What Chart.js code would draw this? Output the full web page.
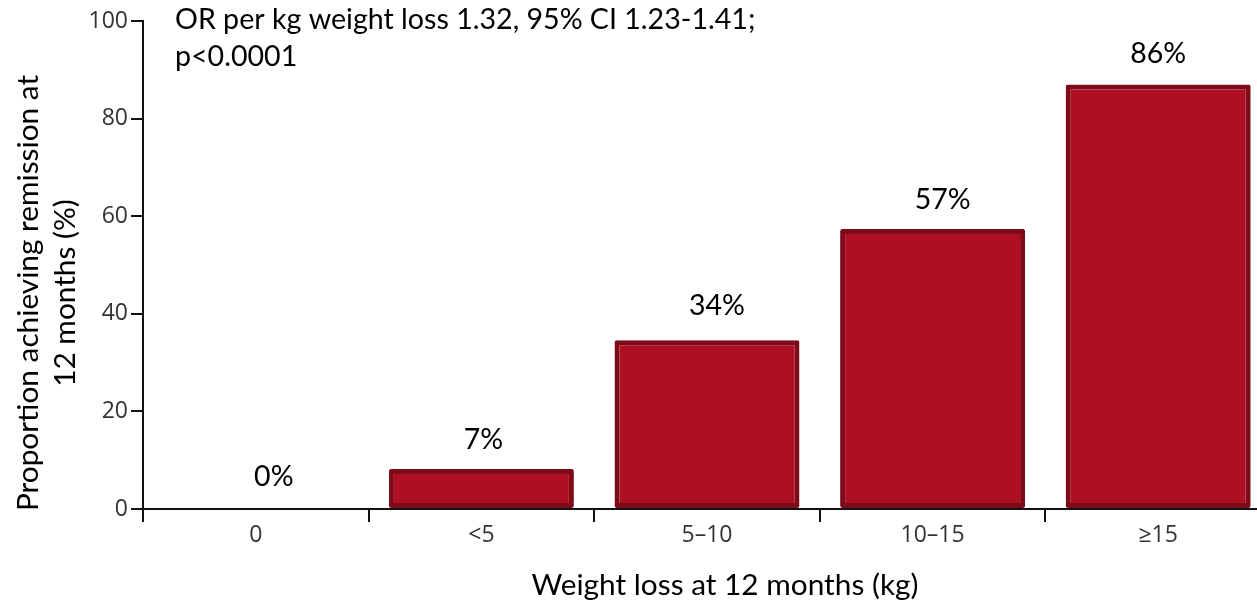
<!DOCTYPE html>
<html>
<head>
<meta charset="utf-8">
<script src="https://cdn.jsdelivr.net/npm/chart.js@4.4.1/dist/chart.umd.min.js"></script>
<style>
  html, body { margin: 0; padding: 0; background: #ffffff; overflow: hidden; }
  #wrap { width: 1271px; height: 606px; }
</style>
</head>
<body>
<div id="wrap"><canvas id="c" width="1271" height="606"></canvas></div>
<script>
// ---- data ----
const categories = ["0", "<5", "5\u201310", "10\u201315", "\u226515"];
const remissionPct = [0, 8.2, 34.6, 57.4, 87.0];
const valueLabels = ["0%", "7%", "34%", "57%", "86%"];
const yTicks = [0, 20, 40, 60, 80, 100];
const annotationLines = ["OR per kg weight loss 1.32, 95% CI 1.23-1.41;", "p<0.0001"];
const yTitleLines = ["Proportion achieving remission at", "12 months (%)"];
const xTitle = "Weight loss at 12 months (kg)";

const TEXT_FONT = "Lato, 'Noto Sans', sans-serif";
const TICK_FONT = "'Open Sans', 'Noto Sans', sans-serif";

const textPlugin = {
  id: 'textPlugin',
  afterDraw(chart, args, opts) {
    const ctx = chart.ctx;
    const meta = chart.getDatasetMeta(0);
    ctx.save();
    // value labels
    ctx.fillStyle = '#000';
    ctx.font = '28.5px ' + TEXT_FONT;
    ctx.textAlign = 'center';
    ctx.textBaseline = 'alphabetic';
    meta.data.forEach((bar, i) => {
      ctx.fillText(valueLabels[i], bar.x + opts.labelDx[i], bar.y - opts.labelDy[i]);
    });
    // annotation
    ctx.textAlign = 'left';
    ctx.font = '28.6px ' + TEXT_FONT;
    annotationLines.forEach((t, i) => {
      ctx.fillText(t, 175, 29 + i * 37);
    });
    // x title
    ctx.textAlign = 'center';
    ctx.font = '29.8px ' + TEXT_FONT;
    ctx.fillText(xTitle, 725, 595);
    // y title
    ctx.rotate(-Math.PI / 2);
    ctx.font = '29.8px ' + TEXT_FONT;
    ctx.textAlign = 'center';
    ctx.fillText(yTitleLines[0], -293, 38);
    ctx.fillText(yTitleLines[1], -293, 75);
    ctx.restore();
  }
};

new Chart(document.getElementById('c'), {
  type: 'bar',
  data: {
    labels: categories,
    datasets: [{
      data: remissionPct,
      backgroundColor: '#AC1022',
      borderColor: '#7E0B19',
      borderWidth: 5,
      borderSkipped: false,
      borderRadius: 2,
      barPercentage: 0.82,
      categoryPercentage: 1.0
    }]
  },
  options: {
    responsive: false,
    animation: false,
    devicePixelRatio: 1,
    layout: { padding: { top: 21, right: 0, left: 0, bottom: 0 } },
    plugins: {
      legend: { display: false },
      tooltip: { enabled: false },
      title: { display: false },
      textPlugin: {
        labelDx: [18, 2, 10, 10, 0],
        labelDy: [23, 20, 25, 20, 21]
      }
    },
    scales: {
      x: {
        type: 'category',
        offset: true,
        afterFit(s) { s.height = 97; },
        grid: {
          offset: true,
          drawOnChartArea: false,
          drawTicks: true,
          tickLength: 13,
          color: '#111',
          lineWidth: 2
        },
        border: { display: true, color: '#111', width: 2 },
        ticks: {
          color: '#333333',
          font: { family: TICK_FONT, size: 23 },
          padding: 0,
          maxRotation: 0,
          autoSkip: false
        }
      },
      y: {
        min: 0,
        max: 100,
        afterFit(s) { s.width = 143; },
        afterBuildTicks(s) { s.ticks = yTicks.map(v => ({ value: v })); },
        grid: {
          drawOnChartArea: false,
          drawTicks: true,
          tickLength: 12,
          color: '#111',
          lineWidth: 2
        },
        border: { display: true, color: '#111', width: 2 },
        ticks: {
          color: '#333333',
          font: { family: TICK_FONT, size: 23 },
          padding: 3
        }
      }
    }
  },
  plugins: [textPlugin]
});
</script>
</body>
</html>
